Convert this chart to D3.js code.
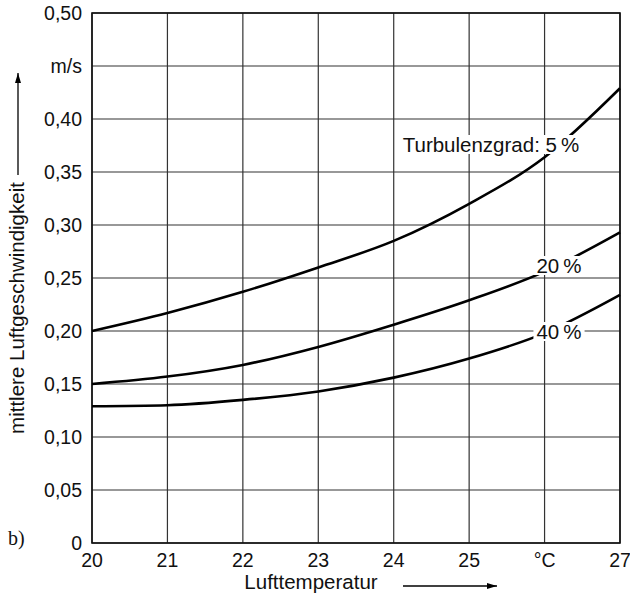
<!DOCTYPE html>
<html lang="de">
<head>
<meta charset="UTF-8">
<title>Luftgeschwindigkeit</title>
<script src="https://d3js.org/d3.v7.min.js"></script>
<style>
    body { margin: 0; background: #fff; }
    svg text { font-family: "Liberation Sans", Arial, sans-serif; fill: #111; }
</style>
</head>
<body>
<div id="chart"></div>
<script>
// temperature points (°C)
const temps = [20, 21, 22, 23, 24, 25, 26, 27];
// mean air velocity (m/s) per turbulence degree
const v5  = [0.200, 0.217, 0.237, 0.260, 0.285, 0.320, 0.364, 0.429];
const v20 = [0.150, 0.157, 0.168, 0.185, 0.206, 0.229, 0.256, 0.293];
const v40 = [0.129, 0.130, 0.135, 0.143, 0.156, 0.174, 0.198, 0.234];
const xTicks = [20, 21, 22, 23, 24, 25, 26, 27];
const xTickLabels = ["20", "21", "22", "23", "24", "25", "°C", "27"];
const yTicks = [0, 0.05, 0.10, 0.15, 0.20, 0.25, 0.30, 0.35, 0.40, 0.45, 0.50];
const yTickLabels = ["0", "0,05", "0,10", "0,15", "0,20", "0,25", "0,30", "0,35", "0,40", "m/s", "0,50"];

const W = 630, H = 601;
const m = { left: 92, right: 10, top: 13, bottom: 58 };
const fsTick = 19.5, fsText = 20.5;

const svg = d3.select('#chart').append('svg')
    .attr('width', W).attr('height', H);

const x = d3.scaleLinear().domain([20, 27]).range([m.left, W - m.right]);
const y = d3.scaleLinear().domain([0, 0.5]).range([H - m.bottom, m.top]);

// grid
svg.append('g').selectAll('line').data(xTicks).join('line')
    .attr('x1', d => x(d)).attr('x2', d => x(d))
    .attr('y1', y(0)).attr('y2', y(0.5))
    .attr('stroke', '#333').attr('stroke-width', 1.2);
svg.append('g').selectAll('line').data(yTicks).join('line')
    .attr('x1', x(20)).attr('x2', x(27))
    .attr('y1', d => y(d)).attr('y2', d => y(d))
    .attr('stroke', '#333').attr('stroke-width', 1.2);

// frame
svg.append('rect')
    .attr('x', x(20)).attr('y', y(0.5))
    .attr('width', x(27) - x(20)).attr('height', y(0) - y(0.5))
    .attr('fill', 'none').attr('stroke', '#111').attr('stroke-width', 1.6);

// tick labels
svg.append('g').selectAll('text').data(yTicks).join('text')
    .attr('x', m.left - 10).attr('y', d => y(d) + 7)
    .attr('text-anchor', 'end').attr('font-size', fsTick)
    .text((d, i) => yTickLabels[i]);
svg.append('g').selectAll('text').data(xTicks).join('text')
    .attr('x', d => x(d)).attr('y', y(0) + 24)
    .attr('text-anchor', 'middle').attr('font-size', fsTick)
    .text((d, i) => xTickLabels[i]);

// curves
const line = d3.line()
    .x((d, i) => x(temps[i]))
    .y(d => y(d))
    .curve(d3.curveMonotoneX);
[v5, v20, v40].forEach(s => {
    svg.append('path').datum(s)
        .attr('d', line)
        .attr('fill', 'none').attr('stroke', '#000').attr('stroke-width', 2.6);
});

// curve labels with white background
function label(txt, cx, cy) {
    const t = svg.append('text')
        .attr('x', cx).attr('y', cy)
        .attr('text-anchor', 'middle').attr('font-size', fsText)
        .text(txt);
    const b = t.node().getBBox();
    svg.insert('rect', () => t.node())
        .attr('x', b.x - 3).attr('y', b.y + 2)
        .attr('width', b.width + 6).attr('height', b.height - 4)
        .attr('fill', '#fff');
}
label('Turbulenzgrad: 5\u2009%', 491, 152);
label('20\u2009%', 559, 273);
label('40\u2009%', 559, 339);

// axis titles
svg.append('text')
    .attr('x', 311).attr('y', 589)
    .attr('text-anchor', 'middle').attr('font-size', fsText)
    .text('Lufttemperatur');
svg.append('defs').append('marker')
    .attr('id', 'arr').attr('viewBox', '0 0 10 6')
    .attr('refX', 10).attr('refY', 3)
    .attr('markerWidth', 12).attr('markerHeight', 6)
    .attr('markerUnits', 'userSpaceOnUse').attr('orient', 'auto')
    .append('path').attr('d', 'M0,0 L10,3 L0,6 Z').attr('fill', '#000');
svg.append('line')
    .attr('x1', 403).attr('x2', 497).attr('y1', 586).attr('y2', 586)
    .attr('stroke', '#000').attr('stroke-width', 1.3)
    .attr('marker-end', 'url(#arr)');

svg.append('text')
    .attr('transform', 'translate(24,308) rotate(-90)')
    .attr('text-anchor', 'middle').attr('font-size', fsText)
    .text('mittlere Luftgeschwindigkeit');
svg.append('line')
    .attr('x1', 18).attr('x2', 18).attr('y1', 175).attr('y2', 73)
    .attr('stroke', '#000').attr('stroke-width', 1.3)
    .attr('marker-end', 'url(#arr)');

// panel tag
svg.append('text')
    .attr('x', 8).attr('y', 545)
    .style('font-family', '"Liberation Serif", "Times New Roman", serif')
    .attr('font-size', 20)
    .text('b)');
</script>
</body>
</html>
